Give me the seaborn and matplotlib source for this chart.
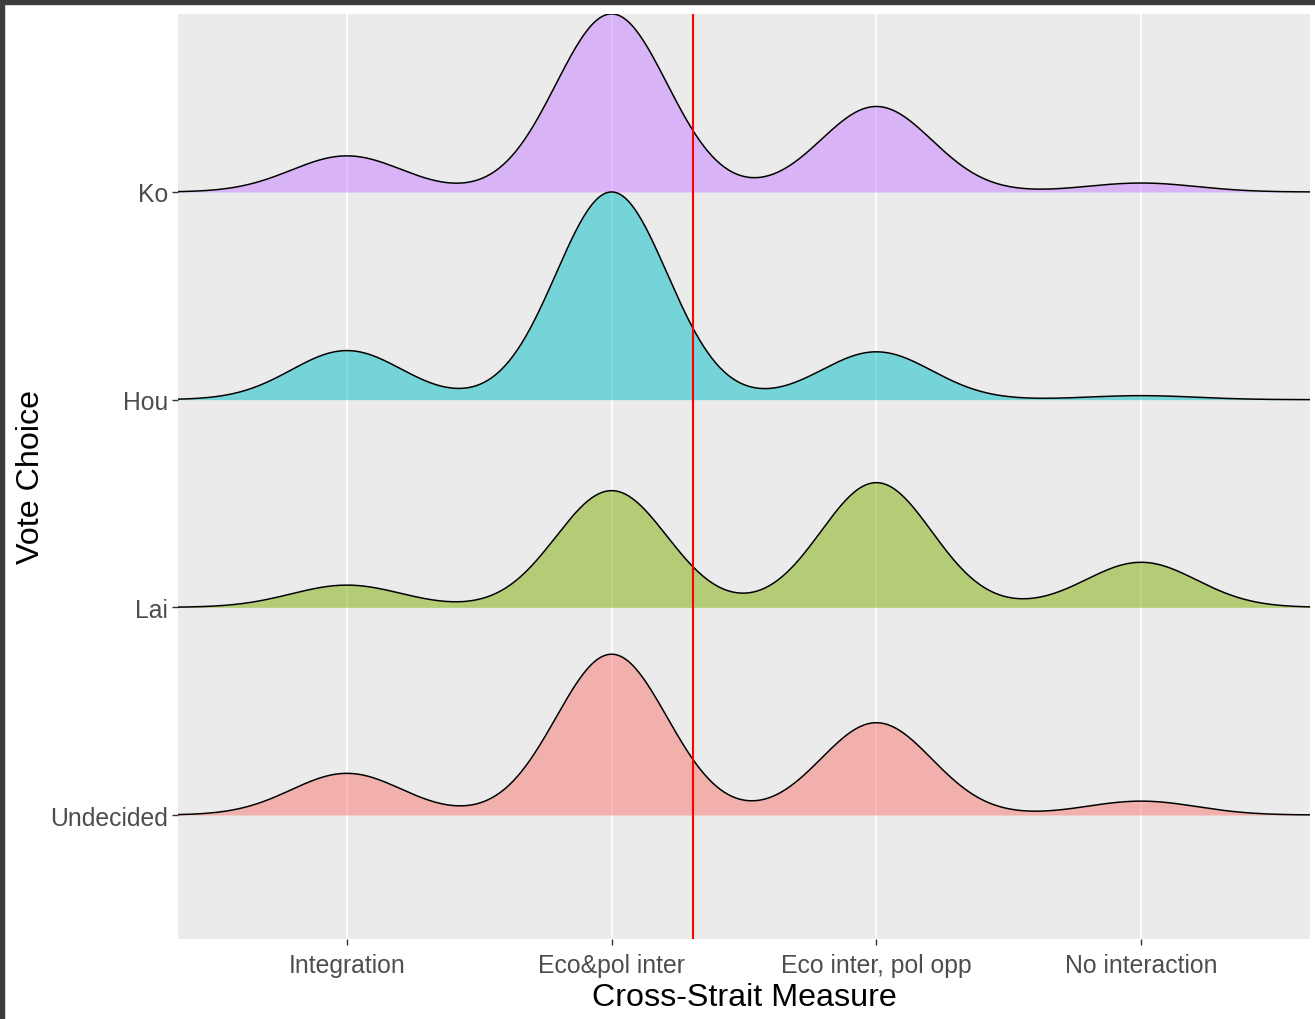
import numpy as np
import matplotlib
matplotlib.use("Agg")
import matplotlib.pyplot as plt
from matplotlib import transforms
from matplotlib.patches import Rectangle
import seaborn as sns

plt.rcParams["font.family"] = ["Liberation Sans", "DejaVu Sans"]

# ---- data ----
measure_labels = ["Integration", "Eco&pol inter", "Eco inter, pol opp", "No interaction"]
measure_pos = [1, 2, 3, 4]
vote_choices = ["Undecided", "Lai", "Hou", "Ko"]          # bottom -> top
# share of respondents (%) at each measure level, per vote choice
share_undecided = [13.5, 52.1, 29.9, 4.5]
share_lai = [7.2, 37.8, 40.4, 14.6]
share_hou = [15.9, 67.3, 15.5, 1.3]
share_ko = [11.7, 57.7, 27.7, 2.9]
shares = {"Undecided": share_undecided, "Lai": share_lai, "Hou": share_hou, "Ko": share_ko}
ref_line = 2.306
colors = {"Undecided": "#F8766D", "Lai": "#7CAE00", "Hou": "#00BFC4", "Ko": "#C77CFF"}

BW = 0.21  # absolute kernel bandwidth (joint)


def bw_abs(k):
    var = float(np.cov(np.asarray(k.dataset).ravel(), aweights=np.asarray(k.weights)))
    return BW / np.sqrt(var)


W, H = 1315, 1020
fig = plt.figure(figsize=(W / 100, H / 100), dpi=100)
ax = fig.add_axes([178 / W, (H - 940) / H, (1310 - 178) / W, (940 - 15) / H])
ax.set_facecolor("#EBEBEB")
for s in ax.spines.values():
    s.set_visible(False)

# grid
for xp in measure_pos:
    ax.axvline(xp, color="white", lw=1.3, zorder=0.5)

artists = []  # (artist, baseline)
draw_order = ["Ko", "Hou", "Lai", "Undecided"]
z = 2
for name in draw_order:
    base = vote_choices.index(name) + 1
    w = np.array(shares[name], dtype=float)
    n_coll = len(ax.collections)
    n_line = len(ax.lines)
    sns.kdeplot(x=measure_pos, weights=w, bw_method=bw_abs, cut=4, gridsize=600,
                fill=True, color=colors[name], alpha=0.5, linewidth=0, ax=ax, zorder=z)
    sns.kdeplot(x=measure_pos, weights=w, bw_method=bw_abs, cut=4, gridsize=600,
                fill=False, color="black", linewidth=1.1, ax=ax, zorder=z + 0.5)
    for a in ax.collections[n_coll:]:
        artists.append((a, base, "c"))
    for a in ax.lines[n_line:]:
        artists.append((a, base, "l"))
    z += 1

gmax = max(np.max(a.get_ydata()) for a, b, t in artists if t == "l")
for a, base, t in artists:
    a.set_transform(transforms.Affine2D().scale(1, 1.0 / gmax).translate(0, base) + ax.transData)

ax.axvline(ref_line, color="#FF0000", lw=1.5, zorder=20)

FF = ["Liberation Sans", "DejaVu Sans"]
ax.set_xlim(0.362, 4.638)
ax.set_ylim(0.403, 4.857)
ax.set_xticks(measure_pos)
ax.set_xticklabels(measure_labels, fontfamily=FF)
ax.set_yticks([1, 2, 3, 4])
ax.set_yticklabels(vote_choices, fontfamily=FF)
ax.tick_params(axis="both", length=4, width=1, color="#333333", labelcolor="#4D4D4D",
               labelsize=17.8)
ax.tick_params(axis="x", pad=6)
ax.tick_params(axis="y", pad=3)
ax.set_xlabel("Cross-Strait Measure", fontsize=23.2, color="black", labelpad=4,
              fontfamily=FF)
ax.set_ylabel("Vote Choice", fontsize=23.2, color="black", labelpad=3,
              fontfamily=FF)
ax.grid(False)

# screenshot frame (dark border top and left)
fig.patches.append(Rectangle((0, 1 - 5 / H), 1, 5 / H, transform=fig.transFigure,
                             color="#3d3d3d", zorder=100))
fig.patches.append(Rectangle((0, 0), 4 / W, 1, transform=fig.transFigure,
                             color="#3d3d3d", zorder=100))

fig.savefig("out.png", dpi=100, facecolor="white")
